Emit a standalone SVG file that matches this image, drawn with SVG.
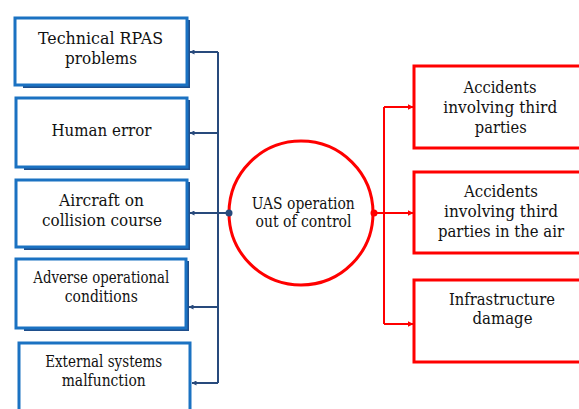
<svg xmlns="http://www.w3.org/2000/svg" width="579" height="409" viewBox="0 0 579 409">
<defs>
<style>
.bbox{fill:#fff;stroke:#1b72c2;stroke-width:3}
.shadow{fill:none;stroke:#1f4f8c;stroke-width:2}
.rbox{fill:#fff;stroke:#ff0000;stroke-width:3}
text{font-family:'DejaVu Serif','Liberation Serif',serif;font-size:17px;fill:#111;text-anchor:middle}
.ts{font-size:16px}
.blue{stroke:#284a7c;stroke-width:2;fill:none}
.red{stroke:#ff0000;stroke-width:2;fill:none}
</style>
<marker id="ab" viewBox="0 0 10 10" refX="9" refY="5" markerWidth="5" markerHeight="5" orient="auto" markerUnits="userSpaceOnUse"><path d="M0,0L10,5L0,10z" fill="#284a7c"/></marker>
<marker id="ar" viewBox="0 0 10 10" refX="9" refY="5" markerWidth="6" markerHeight="6" orient="auto" markerUnits="userSpaceOnUse"><path d="M0,0L10,5L0,10z" fill="#ff0000"/></marker>
</defs>
<rect width="579" height="409" fill="#fff"/>
<g id="n1"><path class="shadow" d="M23,87H189V20"/><rect class="bbox" x="15" y="18" width="172" height="67"/><text x="100.5" y="44" textLength="125" lengthAdjust="spacingAndGlyphs">Technical RPAS</text><text x="101" y="64" textLength="72" lengthAdjust="spacingAndGlyphs">problems</text></g>
<g id="n2"><path class="shadow" d="M24,169H189V100"/><rect class="bbox" x="16" y="98" width="171" height="69"/><text x="101.5" y="136" textLength="100" lengthAdjust="spacingAndGlyphs">Human error</text></g>
<g id="n3"><path class="shadow" d="M24,249H189V182"/><rect class="bbox" x="16" y="180" width="171" height="67"/><text x="101.5" y="206" textLength="85" lengthAdjust="spacingAndGlyphs">Aircraft on</text><text x="102" y="226" textLength="120" lengthAdjust="spacingAndGlyphs">collision course</text></g>
<g id="n4"><path class="shadow" d="M24,330H188V261"/><rect class="bbox" x="16" y="259" width="170" height="69"/><text class="ts" x="101.3" y="283" textLength="136" lengthAdjust="spacingAndGlyphs">Adverse operational</text><text class="ts" x="101.3" y="302" textLength="73" lengthAdjust="spacingAndGlyphs">conditions</text></g>
<g id="n5"><rect class="bbox" x="19" y="343" width="171" height="80"/><text class="ts" x="103.7" y="367" textLength="117" lengthAdjust="spacingAndGlyphs">External systems</text><text class="ts" x="103.7" y="386" textLength="84" lengthAdjust="spacingAndGlyphs">malfunction</text></g>
<g id="c"><circle cx="301" cy="213" r="72" fill="#fff" stroke="#ff0000" stroke-width="3"/><text class="ts" x="303.3" y="209" textLength="103" lengthAdjust="spacingAndGlyphs">UAS operation</text><text class="ts" x="303.5" y="227" textLength="96" lengthAdjust="spacingAndGlyphs">out of control</text></g>
<g id="r1"><rect class="rbox" x="414" y="66" width="172" height="82"/><text x="500" y="93" textLength="73" lengthAdjust="spacingAndGlyphs">Accidents</text><text x="500.3" y="113" textLength="114" lengthAdjust="spacingAndGlyphs">involving third</text><text x="500.8" y="133" textLength="52" lengthAdjust="spacingAndGlyphs">parties</text></g>
<g id="r2"><rect class="rbox" x="414" y="172" width="172" height="81"/><text x="501" y="197" textLength="74" lengthAdjust="spacingAndGlyphs">Accidents</text><text x="501" y="217" textLength="114" lengthAdjust="spacingAndGlyphs">involving third</text><text x="501" y="237" textLength="126" lengthAdjust="spacingAndGlyphs">parties in the air</text></g>
<g id="r3"><rect class="rbox" x="414" y="280" width="172" height="82"/><text x="502" y="305" textLength="106" lengthAdjust="spacingAndGlyphs">Infrastructure</text><text x="502.5" y="324" textLength="60" lengthAdjust="spacingAndGlyphs">damage</text></g>
<g id="connectors">
<path class="blue" d="M218,52V383"/>
<path class="blue" d="M218,52H190" marker-end="url(#ab)"/>
<path class="blue" d="M218,133H190" marker-end="url(#ab)"/>
<path class="blue" d="M229,213H190" marker-end="url(#ab)"/>
<path class="blue" d="M218,307H189" marker-end="url(#ab)"/>
<path class="blue" d="M218,383H192" marker-end="url(#ab)"/>
<circle cx="229" cy="213" r="3.5" fill="#284a7c"/>
<path class="red" d="M384,107V324"/>
<path class="red" d="M384,107H413" marker-end="url(#ar)"/>
<path class="red" d="M374,213H413" marker-end="url(#ar)"/>
<path class="red" d="M384,324H413" marker-end="url(#ar)"/>
<circle cx="374" cy="213" r="3.5" fill="#ff0000"/>
</g>
</svg>
